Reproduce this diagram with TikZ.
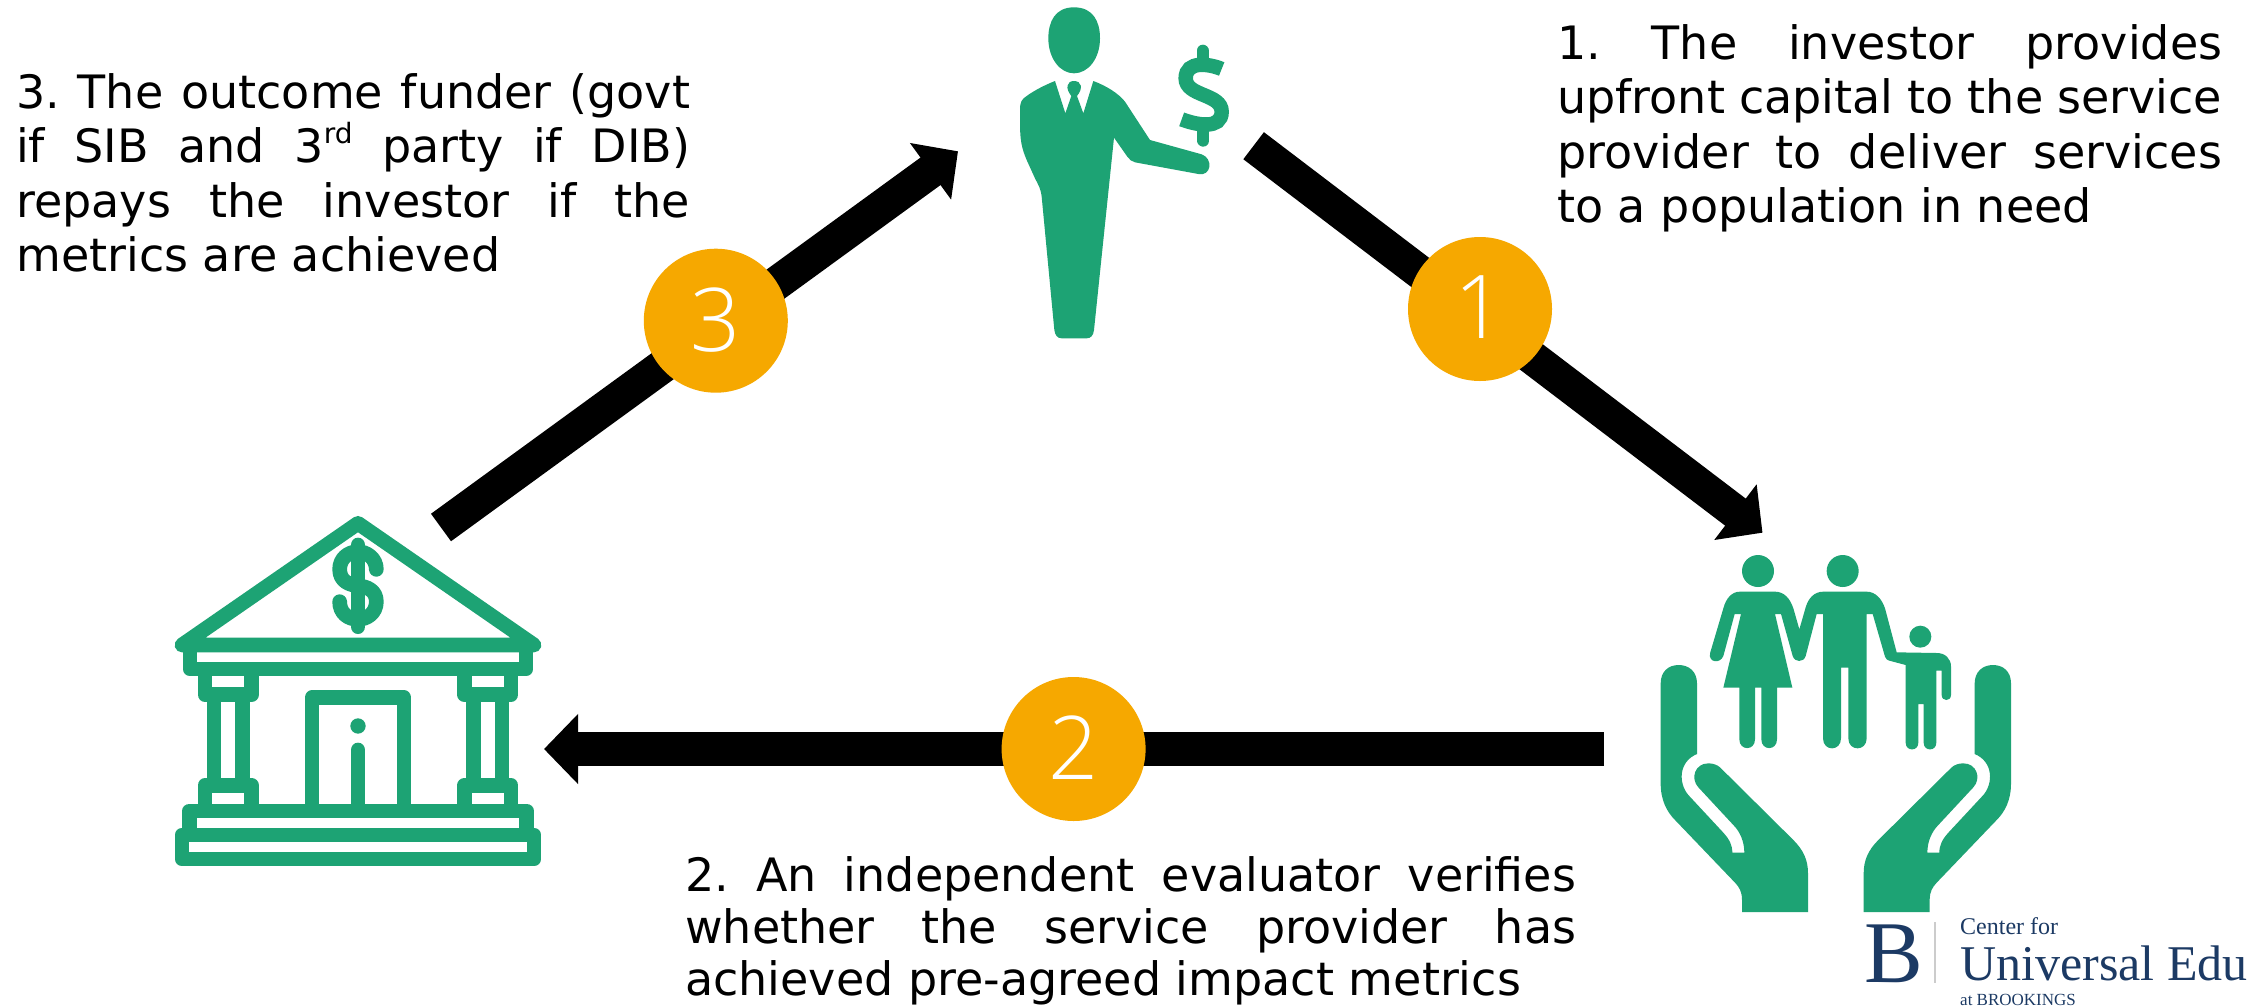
\documentclass[tikz,border=0pt]{standalone}
\usepackage{fontspec}
\usetikzlibrary{arrows.meta}
\setmainfont{DejaVu Sans}
\newfontfamily\numfont{Open Sans Light}
\newfontfamily\logofont{Liberation Serif}
\definecolor{icongreen}{HTML}{1DA374}
\definecolor{badgeorange}{HTML}{F6A800}
\definecolor{logoblue}{HTML}{1C3A64}
\frenchspacing
\tikzset{
  flow/.style={line width=34pt,black,-{Triangle[length=34pt,width=68pt]}},
  badge/.style={circle,fill=badgeorange,minimum size=144pt,inner sep=0pt,text=white,font=\numfont\fontsize{88}{88}\selectfont},
  caption/.style={anchor=base west,inner sep=0pt,font=\fontsize{46}{54.5}\selectfont},
  bankline/.style={draw=icongreen,line width=14.7pt,line join=round},
  logotext/.style={anchor=base west,inner sep=0pt,text=logoblue},
  zoomed/.style={x=.33333pt,y=-.33333pt},
}
\newcommand{\handpath}{(62,460) .. controls (62,425) and (85,405) .. (116,405) .. controls (147,405) and (171,425) .. (171,460) -- (171,672) .. controls (115,695) and (115,760) .. (145,795) -- (250,908) .. controls (268,928) and (277,945) .. (277,968) -- (313,968) .. controls (313,935) and (300,905) .. (280,885) -- (175,772) .. controls (150,745) and (165,700) .. (205,700) .. controls (220,700) and (232,705) .. (240,712) -- (460,930) .. controls (490,960) and (504,990) .. (504,1030) -- (504,1146) -- (306,1146) -- (306,1110) .. controls (306,1085) and (298,1072) .. (285,1058) -- (105,870) .. controls (80,845) and (62,810) .. (62,760) -- cycle}
\begin{document}
\begin{tikzpicture}[x=1pt,y=-1pt]
\useasboundingbox (0,0) rectangle (2251,1007);
\fill[white] (0,0) rectangle (2251,1007);

% investor
\begin{scope}[xshift=950pt,zoomed]
\fill[icongreen] (372,22) .. controls (430,22) and (450,65) .. (450,115) .. controls (450,175) and (415,220) .. (372,220) .. controls (330,220) and (295,175) .. (295,115) .. controls (295,65) and (315,22) .. (372,22) -- cycle;
\fill[icongreen] (315,243) -- (346,340) -- (364,288) .. controls (345,265) and (350,243) .. (372,243) .. controls (395,243) and (400,265) .. (381,288) -- (400,340) -- (430,243) .. controls (470,258) and (505,280) .. (525,305) -- (600,420) -- (755,463) .. controls (790,475) and (785,530) .. (745,522) -- (555,487) .. controls (545,485) and (538,478) .. (532,470) -- (492,413) -- (432,990) .. controls (430,1007) and (422,1015) .. (410,1015) -- (335,1015) .. controls (322,1015) and (315,1005) .. (313,990) -- (275,590) .. controls (272,565) and (265,555) .. (255,535) -- (230,480) .. controls (215,445) and (210,420) .. (210,370) -- (210,330) .. controls (210,305) and (215,298) .. (230,288) .. controls (255,270) and (285,255) .. (315,243) -- cycle;
\draw[icongreen,line width=14.5pt] (815,207) .. controls (780,192) and (707,180) .. (707,235) .. controls (707,290) and (815,280) .. (815,335) .. controls (815,390) and (740,375) .. (695,358);
\draw[icongreen,line width=12pt,line cap=round] (758,152) -- (758,185);
\draw[icongreen,line width=12pt,line cap=round] (760,388) -- (760,422);
\end{scope}

% bank
\begin{scope}[xshift=150pt,yshift=-500pt,zoomed]
\draw[bankline] (96,435) -- (624,70) -- (1152,435) -- cycle;
\draw[bankline] (120,435) -- (120,507) -- (1128,507) -- (1128,435);
\draw[bankline] (165,507) -- (165,584) -- (305,584) -- (305,507);
\draw[bankline] (943,507) -- (943,584) -- (1083,584) -- (1083,507);
\draw[bankline] (192,584) -- (192,856);
\draw[bankline] (277,584) -- (277,856);
\draw[bankline] (970,584) -- (970,856);
\draw[bankline] (1056,584) -- (1056,856);
\draw[bankline] (165,933) -- (165,856) -- (305,856) -- (305,933);
\draw[bankline] (943,933) -- (943,856) -- (1083,856) -- (1083,933);
\draw[bankline] (118,1005) -- (118,933) -- (1130,933) -- (1130,1005);
\draw[bankline] (96,1005) rectangle (1152,1077);
\draw[bankline] (486,933) -- (486,593) -- (762,593) -- (762,933);
\fill[icongreen] (624,678) circle[radius=23];
\draw[bankline,line cap=round] (624,750) -- (624,925);
\draw[bankline,line cap=round] (679,208) .. controls (679,175) and (650,155) .. (624,155) .. controls (595,155) and (569,175) .. (569,208) .. controls (569,245) and (600,255) .. (624,257) .. controls (650,260) and (679,270) .. (679,305) .. controls (679,340) and (650,358) .. (624,358) .. controls (595,358) and (569,340) .. (569,305);
\draw[bankline,line cap=round] (624,135) -- (624,380);
\end{scope}

% family in hands
\begin{scope}[xshift=1640pt,yshift=-530pt,zoomed]
\fill[icongreen] (354,123) circle[radius=48];
\fill[icongreen] (608,123) circle[radius=48];
\fill[icongreen] (841,320) circle[radius=33];
\fill[icongreen] (300,185) .. controls (275,185) and (258,205) .. (250,235) -- (210,370) .. controls (205,398) and (240,402) .. (250,378) -- (284,252) -- (303,252) -- (250,473) -- (298,473) -- (298,628) .. controls (298,663) and (345,663) .. (345,628) -- (345,473) -- (364,473) -- (364,628) .. controls (364,663) and (411,663) .. (411,628) -- (411,473) -- (457,473) -- (405,252) -- (423,252) -- (458,378) .. controls (465,398) and (490,398) .. (497,378) -- (530,252) -- (549,252) -- (549,625) .. controls (549,665) and (603,665) .. (603,625) -- (603,413) -- (625,413) -- (625,625) .. controls (625,665) and (680,665) .. (680,625) -- (680,252) -- (698,252) -- (735,380) .. controls (738,388) and (742,390) .. (748,392) -- (797,405) -- (797,638) .. controls (797,665) and (835,665) .. (835,638) -- (835,522) -- (851,522) -- (851,638) .. controls (851,665) and (889,665) .. (889,638) -- (889,422) -- (905,422) -- (905,495) .. controls (905,515) and (933,515) .. (933,495) -- (933,410) .. controls (933,385) and (915,369) .. (890,369) -- (770,367) -- (735,235) .. controls (725,205) and (705,185) .. (680,185) -- (550,185) .. controls (522,185) and (505,205) .. (497,232) -- (478,298) -- (460,235) .. controls (450,205) and (432,185) .. (405,185) -- cycle;
\fill[icongreen] \handpath;
\end{scope}
\begin{scope}[xshift=2031.67pt,yshift=-530pt,x=-.33333pt,y=-.33333pt]
\fill[icongreen] \handpath;
\end{scope}

% connectors
\coordinate (capitalstart) at (1253.6,145.7);
\coordinate (capitalend) at (1762.5,532.7);
\coordinate (verifystart) at (1604,749);
\coordinate (verifyend) at (544,749);
\coordinate (repaystart) at (441,527.5);
\coordinate (repayend) at (958,151.3);
\draw[flow] (capitalstart) -- (capitalend);
\draw[flow] (verifystart) -- (verifyend);
\draw[flow] (repaystart) -- (repayend);

% badges
\node[badge] (badgeone) at (1480,309) {\raisebox{3pt}{1}};
\node[badge] (badgetwo) at (1073.6,749) {\raisebox{3pt}{2}};
\node[badge] (badgethree) at (715.8,320.7) {\raisebox{3pt}{3}};

% captions
\node[caption] (captionthree) at (16,108) {\begin{minipage}[t]{674pt}\setlength{\parindent}{0pt}\hbadness=10000 3. The outcome funder (govt\linebreak if SIB and 3\raisebox{.42em}{\fontsize{28}{28}\selectfont rd} party if DIB)\linebreak repays the investor if the\linebreak metrics are achieved\end{minipage}};
\node[caption] (captionone) at (1557,59) {\begin{minipage}[t]{665pt}\setlength{\parindent}{0pt}\hbadness=10000 1. The investor provides\linebreak upfront capital to the service\linebreak provider to deliver services\linebreak to a population in need\end{minipage}};
\node[caption,font=\fontsize{46}{52}\selectfont] (captiontwo) at (685,891.5) {\begin{minipage}[t]{891pt}\setlength{\parindent}{0pt}\hbadness=10000 2. An independent evaluator verifies\linebreak whether the service provider has\linebreak achieved pre-agreed impact metrics\end{minipage}};

% logo
\node[logotext,font=\logofont\fontsize{88}{88}\selectfont] (logob) at (1864,982) {B};
\coordinate (logoruletop) at (1935,922);
\coordinate (logorulebottom) at (1935,983);
\draw[black!20,line width=1.5pt] (logoruletop) -- (logorulebottom);
\node[logotext,font=\logofont\fontsize{24}{24}\selectfont] (logocenter) at (1960,934) {Center for};
\node[logotext,font=\logofont\fontsize{50}{50}\selectfont] (logouniversal) at (1960,980) {Universal Edu};
\node[logotext,font=\logofont\fontsize{17}{17}\selectfont] (logobrookings) at (1960,1005) {at BROOKINGS};
\end{tikzpicture}
\end{document}
